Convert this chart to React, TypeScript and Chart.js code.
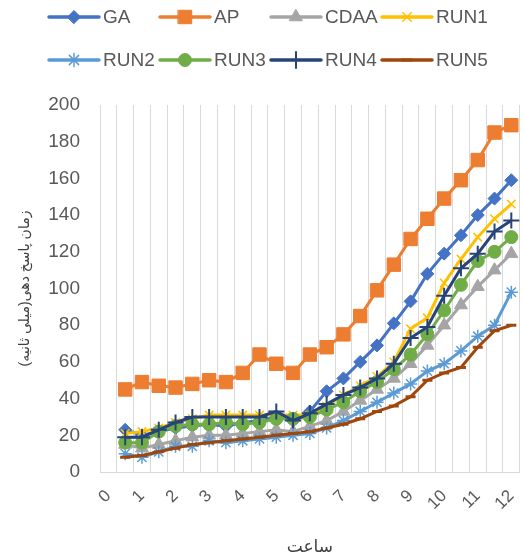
import React, { useEffect, useRef } from 'react';
import { Chart, registerables } from 'chart.js';
import { drawPoint } from 'chart.js/helpers';

Chart.register(...registerables);

// categories (hours, half-hour steps)
const hours = ['0', '0.5', '1', '1.5', '2', '2.5', '3', '3.5', '4', '4.5', '5', '5.5', '6', '6.5', '7', '7.5', '8', '8.5', '9', '9.5', '10', '10.5', '11', '11.5', '12'];

const seriesNames = ['GA', 'AP', 'CDAA', 'RUN1', 'RUN2', 'RUN3', 'RUN4', 'RUN5'];

const gaValues = [null, 23, 20, 22, 24, 25, 26, 25, 27, 28, 30, 28, 33, 44, 51, 60, 69, 81, 93, 108, 119, 129, 140, 149, 159];
const apValues = [null, 45, 49, 47, 46, 48, 50, 49, 54, 64, 59, 54, 64, 68, 75, 85, 99, 113, 127, 138, 149, 159, 170, 185, 189];
const cdaaValues = [null, 15, 13, 15, 17, 19, 20, 20, 21, 22, 23, 22, 25, 28, 33, 39, 45, 51, 59, 69, 80, 91, 101, 110, 119];
const run1Values = [null, 21, 22, 24, 27, 29, 31, 31, 31, 31, 31, 31, 31, 36, 42, 47, 52, 60, 78, 84, 103, 116, 128, 138, 146];
const run2Values = [null, 10, 8, 11, 14, 14, 17, 16, 17, 18, 19, 20, 21, 24, 28, 33, 38, 43, 48, 55, 59, 66, 74, 80, 98];
const run3Values = [null, 16, 16, 22, 25, 26, 26, 27, 26, 27, 29, 29, 30, 34, 38, 44, 49, 56, 64, 75, 88, 102, 115, 120, 128];
const run4Values = [null, 19, 19, 23, 27, 30, 30, 30, 30, 30, 33, 28, 32, 37, 42, 46, 51, 59, 73, 79, 96, 111, 119, 131, 137];
const run5Values = [null, 8, 9, 11, 13, 15, 16, 17, 18, 19, 20, 21, 22, 24, 26, 29, 33, 36, 41, 50, 54, 57, 68, 77, 80];

const seriesValues = [gaValues, apValues, cdaaValues, run1Values, run2Values, run3Values, run4Values, run5Values];

const yTitle = 'زمان پاسخ دهی(میلی ثانیه)';
const xTitle = 'ساعت';

// styles
const seriesColors = ['#4472C4', '#ED7D31', '#A5A5A5', '#FFC000', '#5B9BD5', '#70AD47', '#264478', '#9E480E'];
const seriesMarkers = ['rectRot', 'rect', 'triangle', 'crossRot', 'star', 'circle', 'cross', 'line'];
const markerRadius = [6.5, 9.5, 7.5, 6, 6.5, 6.5, 8, 5];
const markerBorder = [1, 1, 1, 1.5, 1.5, 1, 2, 3];
const FONT = "'Liberation Sans', 'DejaVu Sans', sans-serif";
const TEXT = '#595959';

const legendPlugin = {
  id: 'excelLegend',
  afterDraw(chart: any) {
    const ctx = chart.ctx;
    const left = 49;
    const colW = 111;
    const rows = [17, 60];
    const lineLen = 50;
    chart.data.datasets.forEach((ds: any, i: number) => {
      const col = i % 4;
      const row = Math.floor(i / 4);
      const x0 = left + col * colW;
      const y = rows[row];
      ctx.save();
      ctx.strokeStyle = ds.borderColor;
      ctx.lineWidth = 3.5;
      ctx.lineCap = 'round';
      ctx.beginPath();
      ctx.moveTo(x0, y);
      ctx.lineTo(x0 + lineLen, y);
      ctx.stroke();
      ctx.fillStyle = ds.pointBackgroundColor;
      ctx.strokeStyle = ds.pointBorderColor;
      ctx.lineWidth = ds.pointBorderWidth;
      drawPoint(ctx, { pointStyle: ds.pointStyle, rotation: 0, radius: ds.pointRadius, borderWidth: ds.pointBorderWidth }, x0 + lineLen / 2, y);
      ctx.fillStyle = TEXT;
      ctx.font = `19px ${FONT}`;
      ctx.textBaseline = 'middle';
      ctx.textAlign = 'left';
      ctx.fillText(ds.label, x0 + lineLen + 4, y + 1);
      ctx.restore();
    });
  },
};

export default function App() {
  const ref = useRef<HTMLCanvasElement | null>(null);
  useEffect(() => {
    document.body.style.margin = '0';
    const canvas = ref.current!;
    const datasets = seriesNames.map((name, i) => ({
      label: name,
      data: seriesValues[i],
      borderColor: seriesColors[i],
      backgroundColor: seriesColors[i],
      borderWidth: 3,
      pointStyle: seriesMarkers[i],
      pointRadius: markerRadius[i],
      pointBackgroundColor: seriesColors[i],
      pointBorderColor: seriesColors[i],
      pointBorderWidth: markerBorder[i],
      tension: 0,
      order: seriesNames.length - i,
      spanGaps: false,
    }));
    const chart = new Chart(canvas, {
      type: 'line',
      data: { labels: hours, datasets },
      plugins: [legendPlugin],
      options: {
        responsive: false,
        animation: false,
        layout: { padding: { top: 105, right: 13, left: 0, bottom: 0 } },
        plugins: { legend: { display: false }, tooltip: { enabled: false } },
        scales: {
          x: {
            type: 'category',
            offset: true,
            grid: { display: true, offset: true, color: '#D9D9D9', lineWidth: 1, drawTicks: false },
            border: { display: true, color: '#D9D9D9' },
            ticks: {
              autoSkip: false,
              minRotation: 45,
              maxRotation: 45,
              padding: 14,
              color: TEXT,
              font: { family: FONT, size: 17 },
              callback: (_v: any, idx: number) => (Number(hours[idx]) % 1 === 0 ? hours[idx] : ''),
            },
            title: { display: true, text: xTitle, color: '#404040', font: { family: FONT, size: 17, lineHeight: 1 }, padding: { top: 0, bottom: 0 } },
            afterFit: (s: any) => { s.height = 84; },
          },
          y: {
            min: 0,
            max: 200,
            ticks: { stepSize: 20, padding: 20, color: TEXT, font: { family: FONT, size: 19 } },
            grid: { display: false, drawTicks: false },
            border: { display: false },
            title: { display: true, text: yTitle, color: '#404040', font: { family: FONT, size: 14, lineHeight: 1 }, padding: { top: 18, bottom: 0 } },
            afterFit: (s: any) => { s.width = 100; },
          },
        },
      } as any,
    });
    return () => chart.destroy();
  }, []);
  return (
    <div style={{ width: 524, height: 556, overflow: 'hidden' }}>
      <canvas ref={ref} width={540} height={556} style={{ display: 'block' }} />
    </div>
  );
}
